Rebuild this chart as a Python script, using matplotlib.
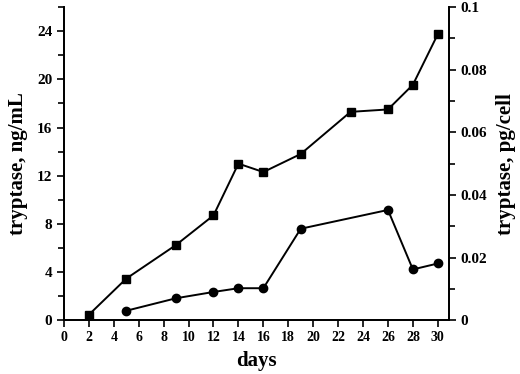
import numpy as np
import matplotlib
matplotlib.use('Agg')
import matplotlib.pyplot as plt
from matplotlib.ticker import MultipleLocator

plt.rcParams['font.family'] = 'Liberation Serif'
plt.rcParams['font.weight'] = 'bold'

# tryptase, ng/mL (squares, left axis)
days_ng = [2, 5, 9, 12, 14, 16, 19, 23, 26, 28, 30]
tryp_ng = [0.45, 3.45, 6.25, 8.7, 13.0, 12.3, 13.8, 17.3, 17.5, 19.55, 23.75]

# tryptase, pg/cell (circles, right axis)
days_pg = [5, 9, 12, 14, 16, 19, 26, 28, 30]
tryp_pg = [0.003, 0.007, 0.009, 0.0102, 0.0102, 0.0292, 0.0352, 0.0162, 0.0181]

fig = plt.figure(figsize=(5.2, 3.74), dpi=100)
ax = fig.add_axes([0.123, 0.144, 0.7405, 0.837])
ax2 = ax.twinx()

ax.plot(days_ng, tryp_ng, color='black', lw=1.4, marker='s', ms=5.5, zorder=3)
ax2.plot(days_pg, tryp_pg, color='black', lw=1.4, marker='o', ms=6, zorder=3)

ax.set_xlim(0, 30.9)
ax.set_ylim(0, 26)
ax2.set_ylim(0, 0.1)

ax.set_xticks(np.arange(0, 31, 2))
ax.set_yticks(np.arange(0, 25, 4))
ax.yaxis.set_minor_locator(MultipleLocator(2))
ax2.set_yticks([0, 0.02, 0.04, 0.06, 0.08, 0.1])
ax2.set_yticklabels(['0', '0.02', '0.04', '0.06', '0.08', '0.1'])
ax2.yaxis.set_minor_locator(MultipleLocator(0.01))

for a in (ax, ax2):
    a.spines['top'].set_visible(False)
    for s in a.spines.values():
        s.set_linewidth(1.3)
    a.tick_params(which='both', direction='out', width=1.2)
    a.tick_params(which='major', length=5)
    a.tick_params(which='minor', length=4)

ax.tick_params(axis='y', labelsize=11)
ax.tick_params(axis='x', labelsize=10, pad=3)
ax2.tick_params(axis='y', labelsize=11)

ax.set_xlabel('days', fontsize=15, fontweight='bold', labelpad=5)
ax.set_ylabel('tryptase, ng/mL', fontsize=15, fontweight='bold', labelpad=6)
ax2.set_ylabel('tryptase, pg/cell', fontsize=15, fontweight='bold', labelpad=6)

fig.savefig('out.png', dpi=100)
